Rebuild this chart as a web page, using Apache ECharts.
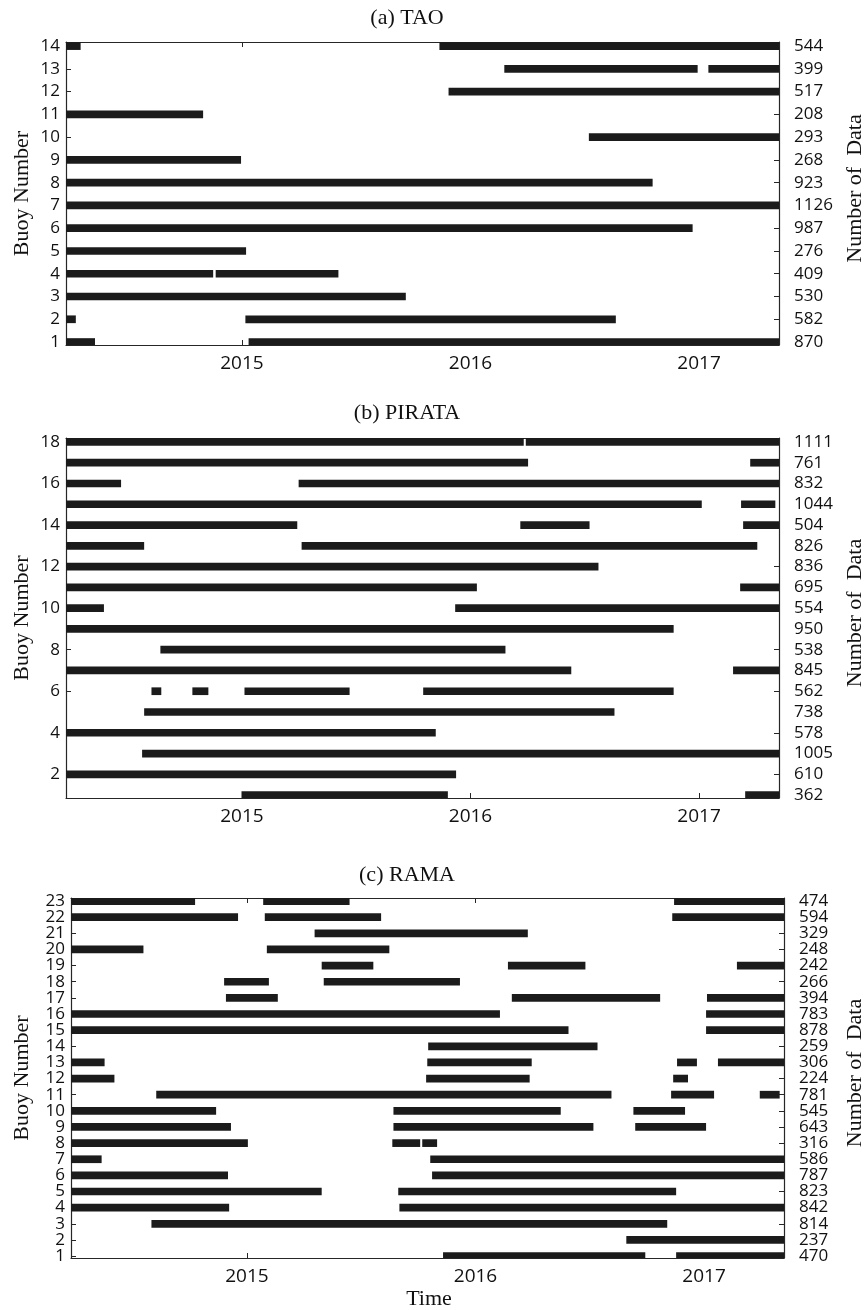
<!DOCTYPE html>
<html>
<head>
<meta charset="utf-8">
<script src="https://cdn.jsdelivr.net/npm/echarts@6/dist/echarts.min.js"></script>
<style>
  html, body { margin: 0; padding: 0; background: #ffffff; }
  #chart { width: 866px; height: 1310px; }
</style>
</head>
<body>
<div id="chart"></div>
<script>
// Observation window (decimal years)
const START = 2014.23;
const END = 2017.35;
const yearTicks = [2015, 2016, 2017];

// (a) TAO — number of data per buoy, buoy 1..14
const taoCounts = [870, 582, 530, 409, 276, 987, 1126, 923, 268, 293, 208, 517, 399, 544];
// [buoy, start, end]
const taoSpans = [
  [14, START, 2014.294], [14, 2015.864, END],
  [13, 2016.148, 2016.994], [13, 2017.041, END],
  [12, 2015.904, END],
  [11, START, 2014.830],
  [10, 2016.518, END],
  [9, START, 2014.996],
  [8, START, 2016.797],
  [7, START, END],
  [6, START, 2016.972],
  [5, START, 2015.018],
  [4, START, 2014.874], [4, 2014.885, 2015.422],
  [3, START, 2015.717],
  [2, START, 2014.273], [2, 2015.015, 2016.636],
  [1, START, 2014.357], [1, 2015.029, END]
];

// (b) PIRATA — buoy 1..18
const pirataCounts = [362, 610, 1005, 578, 738, 562, 845, 538, 950, 554, 695, 836, 826, 504, 1044, 832, 761, 1111];
const pirataSpans = [
  [18, START, 2016.233], [18, 2016.242, END],
  [17, START, 2016.252], [17, 2017.224, END],
  [16, START, 2014.471], [16, 2015.248, END],
  [15, START, 2017.012], [15, 2017.184, 2017.334],
  [14, START, 2015.242], [14, 2016.218, 2016.521], [14, 2017.193, END],
  [13, START, 2014.572], [13, 2015.261, 2017.255],
  [12, START, 2016.560],
  [11, START, 2016.028], [11, 2017.180, END],
  [10, START, 2014.396], [10, 2015.933, END],
  [9, START, 2016.889],
  [8, 2014.643, 2016.153],
  [7, START, 2016.441], [7, 2017.149, END],
  [6, 2014.604, 2014.647], [6, 2014.783, 2014.853], [6, 2015.011, 2015.471], [6, 2015.793, 2016.889],
  [5, 2014.572, 2016.630],
  [4, START, 2015.848],
  [3, 2014.563, END],
  [2, START, 2015.937],
  [1, 2014.998, 2015.901], [1, 2017.202, END]
];

// (c) RAMA — buoy 1..23
const ramaCounts = [470, 237, 814, 842, 823, 787, 586, 316, 643, 545, 781, 224, 306, 259, 878, 783, 394, 266, 242, 248, 329, 594, 474];
const ramaSpans = [
  [23, START, 2014.773], [23, 2015.071, 2015.449], [23, 2016.869, END],
  [22, START, 2014.961], [22, 2015.078, 2015.587], [22, 2016.861, END],
  [21, 2015.296, 2016.229],
  [20, START, 2014.547], [20, 2015.087, 2015.623],
  [19, 2015.327, 2015.553], [19, 2016.142, 2016.481], [19, 2017.144, END],
  [18, 2014.900, 2015.096], [18, 2015.336, 2015.932],
  [17, 2014.908, 2015.135], [17, 2016.159, 2016.808], [17, 2017.013, END],
  [16, START, 2016.107], [16, 2017.009, END],
  [15, START, 2016.407], [15, 2017.009, END],
  [14, 2015.793, 2016.534],
  [13, START, 2014.377], [13, 2015.789, 2016.246], [13, 2016.882, 2016.969], [13, 2017.061, END],
  [12, START, 2014.420], [12, 2015.784, 2016.237], [12, 2016.865, 2016.930],
  [11, 2014.603, 2016.595], [11, 2016.856, 2017.044], [11, 2017.244, 2017.331],
  [10, START, 2014.865], [10, 2015.641, 2016.373], [10, 2016.691, 2016.917],
  [9, START, 2014.930], [9, 2015.641, 2016.516], [9, 2016.699, 2017.009],
  [8, START, 2015.004], [8, 2015.636, 2015.758], [8, 2015.767, 2015.832],
  [7, START, 2014.364], [7, 2015.802, END],
  [6, START, 2014.917], [6, 2015.810, END],
  [5, START, 2015.327], [5, 2015.662, 2016.878],
  [4, START, 2014.922], [4, 2015.667, END],
  [3, 2014.582, 2016.839],
  [2, 2016.660, END],
  [1, 2015.858, 2016.743], [1, 2016.878, END]
];

const ink = '#1b1b1b';
const sansFont = '"Open Sans", "DejaVu Sans", sans-serif';
const serifFont = '"Liberation Serif", "DejaVu Serif", serif';

function rows(n, step) {
  const out = [];
  for (let i = step; i <= n; i += step) out.push(i);
  return out;
}

const panels = [
  { title: '(a) TAO', counts: taoCounts, spans: taoSpans,
    grid: { left: 66, top: 42, width: 713, height: 303 },
    yMin: 0.87, yMax: 14.18, leftStep: 1, rightTickStep: 1, titleY: 18 },
  { title: '(b) PIRATA', counts: pirataCounts, spans: pirataSpans,
    grid: { left: 66, top: 438, width: 713, height: 360 },
    yMin: 0.86, yMax: 18.19, leftStep: 2, rightTickStep: 2, titleY: 413 },
  { title: '(c) RAMA', counts: ramaCounts, spans: ramaSpans,
    grid: { left: 71, top: 898, width: 713, height: 360 },
    yMin: 0.88, yMax: 23.19, leftStep: 1, rightTickStep: 1, titleY: 875 }
];

const axisLine = { show: true, onZero: false, lineStyle: { color: '#262626', width: 1.2 } };
const tick = (values) => ({ show: true, inside: true, length: 5, customValues: values,
  lineStyle: { color: '#262626', width: 1 } });

const grids = [], xAxes = [], yAxes = [], series = [], graphics = [];

// Row labels are split over two overlaid axes (odd / even rows) so that
// closely spaced rows keep every label.
function pushRowAxes(gi, p, position, labelRows, tickRows, margin, fmt) {
  const odd = labelRows.filter(r => r % 2 === 1);
  const even = labelRows.filter(r => r % 2 === 0);
  const labelBase = { margin, fontSize: 17, fontFamily: sansFont, color: '#111',
    showMinLabel: true, showMaxLabel: true, formatter: fmt };
  const mainIndex = yAxes.length;
  yAxes.push({
    type: 'value', gridIndex: gi, position, min: p.yMin, max: p.yMax,
    axisLine, axisTick: tick(tickRows), splitLine: { show: false },
    axisLabel: odd.length ? Object.assign({ customValues: odd }, labelBase) : { show: false }
  });
  yAxes.push({
    type: 'value', gridIndex: gi, position, offset: 0, min: p.yMin, max: p.yMax,
    axisLine: { show: false }, axisTick: { show: false }, splitLine: { show: false },
    axisLabel: even.length ? Object.assign({ customValues: even }, labelBase) : { show: false }
  });
  return mainIndex;
}

panels.forEach((p, i) => {
  const n = p.counts.length;
  grids.push(p.grid);

  // bottom time axis with year labels
  const xIndex = xAxes.length;
  xAxes.push({
    type: 'value', gridIndex: i, position: 'bottom', min: START, max: END,
    axisLine, axisTick: tick(yearTicks), splitLine: { show: false },
    axisLabel: { customValues: yearTicks, margin: 9, fontSize: 19, fontFamily: sansFont,
      color: '#111', formatter: v => String(Math.round(v)) }
  });
  // top frame edge
  xAxes.push({
    type: 'value', gridIndex: i, position: 'top', min: START, max: END,
    axisLine, axisTick: tick(yearTicks), splitLine: { show: false },
    axisLabel: { show: false }
  });

  const leftRows = rows(n, p.leftStep);
  const counts = p.counts;
  // left: buoy number
  const yIndex = pushRowAxes(i, p, 'left', leftRows, leftRows, 6,
    v => String(Math.round(v)));
  // right: number of data per buoy
  pushRowAxes(i, p, 'right', rows(n, 1), rows(n, p.rightTickStep), 15,
    v => String(counts[Math.round(v) - 1]));

  series.push({
    type: 'custom',
    xAxisIndex: xIndex, yAxisIndex: yIndex,
    clip: true,
    encode: { x: [1, 2], y: 0 },
    data: p.spans,
    renderItem: (params, api) => {
      const row = api.value(0);
      const a = api.coord([api.value(1), row]);
      const b = api.coord([api.value(2), row]);
      const h = 7.7;
      const cs = params.coordSys;
      const shape = echarts.graphic.clipRectByRect(
        { x: a[0], y: a[1] - h / 2, width: b[0] - a[0], height: h },
        { x: cs.x, y: cs.y, width: cs.width, height: cs.height }
      );
      return shape && { type: 'rect', shape, style: { fill: ink } };
    }
  });

  const cy = p.grid.top + p.grid.height / 2;
  graphics.push({
    type: 'text', x: 407, y: p.titleY,
    style: { text: p.title, font: '22px ' + serifFont, fill: '#111',
      align: 'center', verticalAlign: 'middle', textAlign: 'center', textVerticalAlign: 'middle' }
  });
  graphics.push({
    type: 'text', x: 22, y: cy, rotation: Math.PI / 2,
    style: { text: 'Buoy Number', font: '22px ' + serifFont, fill: '#111',
      align: 'center', verticalAlign: 'middle', textAlign: 'center', textVerticalAlign: 'middle' }
  });
  graphics.push({
    type: 'text', x: 855, y: cy - 5, rotation: Math.PI / 2,
    style: { text: 'Number of  Data', font: '22px ' + serifFont, fill: '#111',
      align: 'center', verticalAlign: 'middle', textAlign: 'center', textVerticalAlign: 'middle' }
  });
});

graphics.push({
  type: 'text', x: 429, y: 1299,
  style: { text: 'Time', font: '22px ' + serifFont, fill: '#111',
    align: 'center', verticalAlign: 'middle', textAlign: 'center', textVerticalAlign: 'middle' }
});

const chart = echarts.init(document.getElementById('chart'), null, { renderer: 'canvas' });
chart.setOption({
  animation: false,
  backgroundColor: '#ffffff',
  grid: grids,
  xAxis: xAxes,
  yAxis: yAxes,
  series,
  graphic: graphics
});
</script>
</body>
</html>
